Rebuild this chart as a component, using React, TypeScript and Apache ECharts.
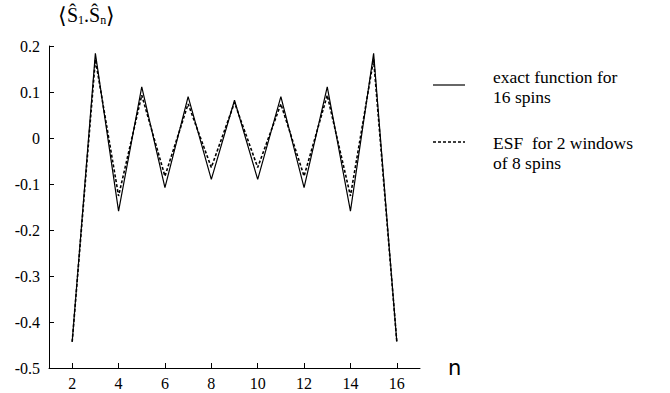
import React, { useEffect, useRef } from "react";
import * as echarts from "echarts";

const nValues = [2, 3, 4, 5, 6, 7, 8, 9, 10, 11, 12, 13, 14, 15, 16];
const exactValues = [-0.443, 0.184, -0.159, 0.111, -0.108, 0.09, -0.09, 0.082, -0.09, 0.09, -0.108, 0.111, -0.159, 0.184, -0.443];
const esfValues = [-0.443, 0.171, -0.126, 0.093, -0.083, 0.074, -0.064, 0.077, -0.064, 0.074, -0.083, 0.093, -0.126, 0.171, -0.443];
const xTicks = [2, 4, 6, 8, 10, 12, 14, 16];
const legendExact = ["exact function for", "16 spins"];
const legendEsf = ["ESF  for 2 windows", "of 8 spins"];

const serif = "Liberation Serif";

export default function App() {
  const ref = useRef<HTMLDivElement>(null);
  useEffect(() => {
    if (!ref.current) return;
    const chart = echarts.init(ref.current, null, { renderer: "svg" });
    chart.setOption({
      animation: false,
      backgroundColor: "#ffffff",
      grid: { left: 49, right: 250, top: 46, bottom: 25 },
      xAxis: {
        type: "value",
        min: 1,
        max: 17,
        interval: 1,
        name: "n",
        nameLocation: "end",
        nameGap: 28,
        nameTextStyle: { fontFamily: "DejaVu Sans", fontSize: 21, color: "#000", verticalAlign: "middle" },
        axisLine: { show: true, onZero: false, lineStyle: { color: "#000", width: 1 } },
        axisTick: { show: true, inside: true, length: 5, customValues: xTicks, lineStyle: { color: "#000" } },
        axisLabel: { customValues: xTicks, color: "#000", fontFamily: serif, fontSize: 16, margin: 7 },
        splitLine: { show: false },
      },
      yAxis: {
        type: "value",
        min: -0.5,
        max: 0.2,
        interval: 0.1,
        axisLine: { show: true, onZero: false, lineStyle: { color: "#000", width: 1 } },
        axisTick: { show: true, inside: true, length: 5, lineStyle: { color: "#000" } },
        axisLabel: {
          color: "#000",
          fontFamily: serif,
          fontSize: 16,
          margin: 9,
          formatter: (v: number) => {
            const r = Math.round(v * 10) / 10;
            return r === 0 ? "0" : r.toFixed(1);
          },
        },
        splitLine: { show: false },
      },
      series: [
        {
          name: "exact function for 16 spins",
          type: "line",
          data: nValues.map((n, i) => [n, exactValues[i]]),
          showSymbol: false,
          lineStyle: { color: "#000", width: 1.2, type: "solid" },
        },
        {
          name: "ESF for 2 windows of 8 spins",
          type: "line",
          data: nValues.map((n, i) => [n, esfValues[i]]),
          showSymbol: false,
          lineStyle: { color: "#000", width: 1.6, type: [3, 2] },
        },
      ],
      graphic: [
        {
          type: "text",
          left: 58,
          top: 4,
          style: {
            text: "{b|⟨}{s|Ŝ}{sub|1}{s|.Ŝ}{sub|n}{b|⟩}",
            rich: {
              b: { fontFamily: serif, fontSize: 22, fill: "#000" },
              s: { fontFamily: serif, fontSize: 20, fill: "#000" },
              sub: { fontFamily: serif, fontSize: 12, fill: "#000", verticalAlign: "bottom", padding: [8, 0, 0, 0] },
            },
          },
        },
        { type: "line", shape: { x1: 433, y1: 85, x2: 465, y2: 85 }, style: { stroke: "#000", lineWidth: 1.2 } },
        {
          type: "text",
          left: 493,
          top: 67,
          style: { text: legendExact.join("\n"), fontFamily: serif, fontSize: 17.5, lineHeight: 20, fill: "#000" },
        },
        { type: "line", shape: { x1: 433, y1: 142, x2: 465, y2: 142 }, style: { stroke: "#000", lineWidth: 1.4, lineDash: [3, 2] } },
        {
          type: "text",
          left: 493,
          top: 133,
          style: { text: legendEsf.join("\n"), fontFamily: serif, fontSize: 17.5, lineHeight: 20, fill: "#000" },
        },
      ],
    });
    return () => chart.dispose();
  }, []);
  return <div ref={ref} style={{ position: "absolute", left: 0, top: 0, width: 670, height: 393 }} />;
}
